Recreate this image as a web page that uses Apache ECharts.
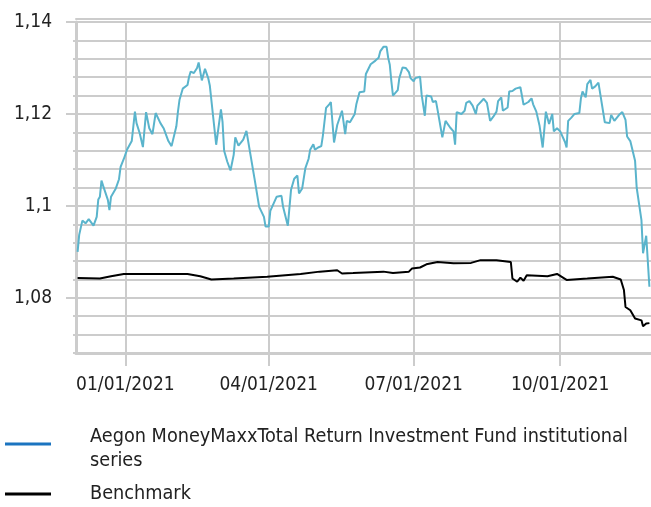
<!DOCTYPE html>
<html>
<head>
<meta charset="utf-8">
<script src="https://cdn.jsdelivr.net/npm/echarts@6.0.0/dist/echarts.min.js"></script>
<style>
  html, body { margin: 0; padding: 0; background: #fff; }
  #main { width: 651px; height: 507px; }
</style>
</head>
<body>
<div id="main"></div>
<script>
var fundName = 'Aegon MoneyMaxxTotal Return Investment Fund institutional series';
var benchName = 'Benchmark';

// fund price
var fundDates = [
  '2020-12-02','2020-12-03','2020-12-05','2020-12-07','2020-12-08','2020-12-09','2020-12-10','2020-12-12','2020-12-14','2020-12-15',
  '2020-12-16','2020-12-17','2020-12-18','2020-12-21','2020-12-22','2020-12-23','2020-12-26','2020-12-28','2020-12-29','2020-12-31',
  '2021-01-02','2021-01-05','2021-01-07','2021-01-08','2021-01-10','2021-01-12','2021-01-14','2021-01-16','2021-01-18','2021-01-20',
  '2021-01-23','2021-01-25','2021-01-26','2021-01-28','2021-01-30','2021-02-02','2021-02-03','2021-02-04','2021-02-06','2021-02-09',
  '2021-02-10','2021-02-11','2021-02-13','2021-02-15','2021-02-16','2021-02-18','2021-02-20','2021-02-22','2021-02-23','2021-02-24',
  '2021-02-27','2021-03-02','2021-03-03','2021-03-04','2021-03-06','2021-03-08','2021-03-10','2021-03-11','2021-03-13','2021-03-16',
  '2021-03-18','2021-03-23','2021-03-24','2021-03-26','2021-03-29','2021-03-30','2021-04-01','2021-04-02','2021-04-06','2021-04-09',
  '2021-04-10','2021-04-13','2021-04-15','2021-04-17','2021-04-19','2021-04-20','2021-04-22','2021-04-24','2021-04-26','2021-04-27',
  '2021-04-29','2021-04-30','2021-05-02','2021-05-04','2021-05-05','2021-05-06','2021-05-07','2021-05-09','2021-05-10','2021-05-12',
  '2021-05-14','2021-05-17','2021-05-19','2021-05-20','2021-05-22','2021-05-25','2021-05-26','2021-05-27','2021-05-28','2021-05-31',
  '2021-06-01','2021-06-02','2021-06-04','2021-06-07','2021-06-09','2021-06-10','2021-06-12','2021-06-14','2021-06-15','2021-06-16',
  '2021-06-17','2021-06-18','2021-06-21','2021-06-22','2021-06-24','2021-06-26','2021-06-28','2021-06-29','2021-07-01','2021-07-02',
  '2021-07-05','2021-07-06','2021-07-07','2021-07-08','2021-07-09','2021-07-12','2021-07-13','2021-07-15','2021-07-16','2021-07-19',
  '2021-07-21','2021-07-24','2021-07-26','2021-07-27','2021-07-28','2021-07-31','2021-08-02','2021-08-03','2021-08-05','2021-08-07',
  '2021-08-09','2021-08-10','2021-08-11','2021-08-14','2021-08-16','2021-08-18','2021-08-20','2021-08-22','2021-08-23','2021-08-25',
  '2021-08-26','2021-08-29','2021-08-30','2021-09-01','2021-09-03','2021-09-06','2021-09-08','2021-09-11','2021-09-13','2021-09-14',
  '2021-09-15','2021-09-16','2021-09-18','2021-09-20','2021-09-22','2021-09-24','2021-09-26','2021-09-27','2021-09-29','2021-10-01',
  '2021-10-04','2021-10-05','2021-10-06','2021-10-08','2021-10-10','2021-10-13','2021-10-14','2021-10-15','2021-10-17','2021-10-18',
  '2021-10-20','2021-10-21','2021-10-23','2021-10-25','2021-10-29','2021-11-01','2021-11-02','2021-11-04','2021-11-07','2021-11-09',
  '2021-11-11','2021-11-12','2021-11-14','2021-11-17','2021-11-18','2021-11-21','2021-11-22','2021-11-24','2021-11-26'
];
var fundValues = [
  1.0900,1.0937,1.0968,1.0962,1.0960,1.0971,1.0969,1.0957,1.0976,1.1014,
  1.1020,1.1055,1.1044,1.1013,1.0991,1.1020,1.1038,1.1058,1.1085,1.1102,
  1.1122,1.1141,1.1205,1.1180,1.1158,1.1128,1.1204,1.1169,1.1156,1.1202,
  1.1180,1.1169,1.1169,1.1141,1.1130,1.1173,1.1205,1.1231,1.1255,1.1263,
  1.1281,1.1292,1.1289,1.1300,1.1312,1.1273,1.1298,1.1278,1.1262,1.1262,
  1.1133,1.1210,1.1183,1.1120,1.1096,1.1077,1.1111,1.1149,1.1131,1.1144,
  1.1163,1.1061,1.1061,1.0998,1.0976,1.0955,1.0955,1.0989,1.1020,1.1022,
  1.0998,1.0957,1.1035,1.1059,1.1066,1.1027,1.1038,1.1082,1.1102,1.1122,
  1.1134,1.1122,1.1127,1.1130,1.1153,1.1183,1.1213,1.1221,1.1226,1.1138,
  1.1176,1.1207,1.1156,1.1185,1.1182,1.1200,1.1221,1.1225,1.1247,1.1249,
  1.1287,1.1291,1.1308,1.1316,1.1322,1.1336,1.1346,1.1346,1.1322,1.1307,
  1.1271,1.1240,1.1252,1.1278,1.1301,1.1300,1.1291,1.1278,1.1271,1.1278,
  1.1281,1.1242,1.1240,1.1196,1.1240,1.1238,1.1226,1.1228,1.1209,1.1149,
  1.1185,1.1170,1.1162,1.1133,1.1204,1.1200,1.1207,1.1224,1.1228,1.1218,
  1.1200,1.1218,1.1221,1.1233,1.1224,1.1185,1.1194,1.1205,1.1228,1.1236,
  1.1207,1.1214,1.1249,1.1250,1.1255,1.1258,1.1220,1.1226,1.1234,1.1221,
  1.1225,1.1205,1.1175,1.1127,1.1205,1.1178,1.1200,1.1162,1.1169,1.1162,
  1.1139,1.1127,1.1185,1.1192,1.1200,1.1202,1.1234,1.1249,1.1236,1.1265,
  1.1274,1.1255,1.1260,1.1268,1.1182,1.1180,1.1198,1.1185,1.1198,1.1204,
  1.1187,1.1151,1.1141,1.1098,1.1040,1.0969,1.0897,1.0935,1.0824
];

// benchmark
var benchDates = [
  '2020-12-02','2020-12-16','2020-12-23','2020-12-31','2021-02-09','2021-02-17','2021-02-24','2021-03-10','2021-03-31','2021-04-21',
  '2021-05-03','2021-05-14','2021-05-17','2021-05-24','2021-06-12','2021-06-18','2021-06-28','2021-06-30','2021-07-05','2021-07-09',
  '2021-07-16','2021-07-26','2021-08-06','2021-08-12','2021-08-22','2021-08-31','2021-09-01','2021-09-04','2021-09-06','2021-09-08',
  '2021-09-10','2021-09-23','2021-09-29','2021-10-05','2021-10-18','2021-11-03','2021-11-08','2021-11-10','2021-11-11','2021-11-14',
  '2021-11-17','2021-11-21','2021-11-22','2021-11-24','2021-11-26'
];
var benchValues = [
  1.0843,1.0842,1.0847,1.0852,1.0852,1.0847,1.0840,1.0842,1.0846,1.0852,
  1.0857,1.0860,1.0853,1.0854,1.0857,1.0854,1.0857,1.0864,1.0866,1.0873,
  1.0878,1.0875,1.0876,1.0882,1.0882,1.0878,1.0842,1.0835,1.0844,1.0837,
  1.0849,1.0847,1.0852,1.0839,1.0842,1.0846,1.0840,1.0817,1.0780,1.0773,
  1.0755,1.0751,1.0738,1.0744,1.0745
];

var xTicks = ['2021-01-01','2021-04-01','2021-07-01','2021-10-01'];
var xStart = '2020-12-01';
var xEnd = '2021-11-27';
var yLabels = [1.08, 1.10, 1.12, 1.14];

var font = '"DejaVu Sans Condensed", "DejaVu Sans", sans-serif';
var gridColor = '#cccccc';

function ts(d) { return echarts.time.parse(d).getTime(); }
function zip(a, b) {
  var out = [];
  for (var i = 0; i < a.length; i++) out.push([ts(a[i]), b[i]]);
  return out;
}
function pad(n) { return (n < 10 ? '0' : '') + n; }
var xTickTimes = xTicks.map(ts);

var myChart = echarts.init(document.getElementById('main'), null, { renderer: 'canvas' });

var option = {
  animation: false,
  backgroundColor: '#ffffff',
  grid: { left: 76, right: 0, top: 22, bottom: 154 },
  xAxis: [
    {
      type: 'value',
      min: ts(xStart),
      max: ts(xEnd),
      axisLine: { show: true, onZero: false, lineStyle: { color: gridColor, width: 3 } },
      axisTick: { show: true, length: 13, customValues: xTickTimes, lineStyle: { color: gridColor, width: 2 } },
      splitLine: { show: true, lineStyle: { color: gridColor, width: 2 } },
      axisLabel: {
        customValues: xTickTimes,
        margin: 23,
        color: '#222',
        fontFamily: font,
        fontSize: 19,
        formatter: function (v) {
          var d = new Date(v);
          return pad(d.getMonth() + 1) + '/' + pad(d.getDate()) + '/' + d.getFullYear();
        }
      }
    },
    {
      type: 'value',
      position: 'top',
      offset: 3,
      min: ts(xStart),
      max: ts(xEnd),
      axisLine: { show: true, onZero: false, lineStyle: { color: gridColor, width: 2 } },
      axisTick: { show: false },
      axisLabel: { show: false },
      splitLine: { show: false }
    }
  ],
  yAxis: [
    {
      type: 'value',
      min: 1.068,
      max: 1.14,
      interval: 0.004,
      axisLine: { show: true, lineStyle: { color: gridColor, width: 3 } },
      axisTick: { show: true, length: 3, lineStyle: { color: gridColor, width: 2 } },
      splitLine: { show: true, lineStyle: { color: gridColor, width: 2 } },
      axisLabel: { show: false }
    },
    {
      type: 'value',
      position: 'left',
      min: 1.068,
      max: 1.14,
      axisLine: { show: false },
      axisTick: { show: true, length: 10, customValues: yLabels, lineStyle: { color: gridColor, width: 2 } },
      splitLine: { show: false },
      axisLabel: {
        customValues: yLabels,
        margin: 24,
        color: '#222',
        fontFamily: font,
        fontSize: 19,
        formatter: function (v) {
          return String(+v.toFixed(2)).replace('.', ',');
        }
      }
    }
  ],
  legend: [
    {
      orient: 'vertical',
      left: 0,
      top: 410,
      selectedMode: false,
      itemWidth: 46,
      itemHeight: 3,
      data: [{ name: fundName, icon: 'rect', itemStyle: { color: '#1b74c0' } }],
      textStyle: {
        fontFamily: font, fontSize: 19.7, color: '#222', lineHeight: 24,
        padding: [10, 0, 0, 0],
        rich: { g: { width: 34 } }
      },
      formatter: function () {
        return '{g|}Aegon MoneyMaxxTotal Return Investment Fund institutional\n{g|}series';
      }
    },
    {
      orient: 'vertical',
      left: 0,
      top: 477,
      selectedMode: false,
      itemWidth: 46,
      itemHeight: 3,
      data: [{ name: benchName, icon: 'rect', itemStyle: { color: '#000000' } }],
      textStyle: {
        fontFamily: font, fontSize: 19.7, color: '#222', lineHeight: 24,
        rich: { g: { width: 34 } }
      },
      formatter: function (name) { return '{g|}' + name; }
    }
  ],
  series: [
    {
      name: fundName,
      type: 'line',
      showSymbol: false,
      data: zip(fundDates, fundValues),
      lineStyle: { color: '#5ab4cc', width: 2 },
      itemStyle: { color: '#5ab4cc' },
      z: 3
    },
    {
      name: benchName,
      type: 'line',
      showSymbol: false,
      data: zip(benchDates, benchValues),
      lineStyle: { color: '#000000', width: 2 },
      itemStyle: { color: '#000000' },
      z: 4
    }
  ]
};
myChart.setOption(option);
</script>
</body>
</html>
